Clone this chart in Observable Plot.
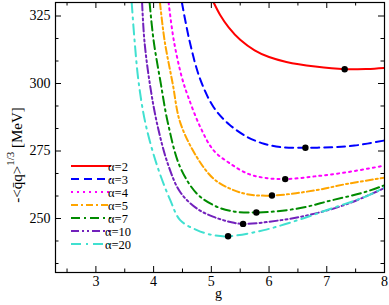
<!DOCTYPE html>
<html>
<head>
<meta charset="utf-8">
<script src="https://cdn.jsdelivr.net/npm/d3@7"></script>
<script src="https://cdn.jsdelivr.net/npm/@observablehq/plot@0.6"></script>
<style>
  html, body { margin: 0; padding: 0; background: white; }
  #chart { width: 389px; height: 305px; }
  #chart svg, #chart svg text { font-family: "Liberation Serif", "Times New Roman", Times, "DejaVu Serif", serif !important; }
</style>
</head>
<body>
<div id="chart"></div>
<script>
// ---- data ----
const alphaLabels = ["α=2", "α=3", "α=4", "α=5", "α=7", "α=10", "α=20"];
const colors = ["#ff0000", "#0000ff", "#ff00ff", "#ffa500", "#008b00", "#7221bc", "#40e0d0"];
const dashes = [null, "8,5", "2,4", "7,3,2,3", "9,4,2,4", "8,3,2,3,2,3", "10,5,2,5"];

const curveA2  = [[5.04,330],[5.15,325.5],[5.3,320.8],[5.5,316.2],[5.75,312.3],[6.0,309.8],[6.3,308],[6.8,306.3],[7.31,305.3],[7.7,305.4],[8,305.8]];
const curveA3  = [[4.49,330],[4.62,316],[4.80,302],[5.04,291.2],[5.30,285],[5.63,280.1],[5.91,277.7],[6.21,276.4],[6.63,276.2],[7.08,276.4],[7.48,277],[8,278.9]];
const curveA4  = [[4.26,330],[4.35,315.9],[4.49,302.2],[4.60,295],[4.81,283.8],[5.04,275.2],[5.33,270.3],[5.63,266.6],[5.91,265.1],[6.28,264.6],[6.79,265.6],[7.37,267.2],[8,269.6]];
const curveA5  = [[4.11,330],[4.19,315.9],[4.33,300],[4.46,285.6],[4.75,272.7],[5.04,264.7],[5.33,261],[5.62,259],[6.05,258.5],[6.79,260.4],[7.37,262.9],[8,265.1]];
const curveA7  = [[3.93,330],[4.0,315.9],[4.12,300.5],[4.25,285.1],[4.46,269],[4.75,259.2],[5.04,254.9],[5.33,252.8],[5.78,252.2],[6.5,253.7],[7.08,256.7],[7.66,259.8],[8,262.3]];
const curveA10 = [[3.80,330],[3.84,315.9],[3.93,300.5],[4.06,285.1],[4.25,270],[4.46,259.8],[4.75,253.7],[5.04,250.6],[5.33,248.7],[5.55,248],[6.21,249.4],[6.79,251.8],[7.37,255.5],[8,261.3]];
const curveA20 = [[3.62,330],[3.67,315.9],[3.74,300.5],[3.86,285.1],[4.06,269.6],[4.29,256.7],[4.46,249.4],[4.75,245.7],[5.04,243.8],[5.29,243.4],[5.91,245.7],[6.5,249.4],[7.08,253.7],[7.66,258],[8,261.5]];
const curves = [curveA2, curveA3, curveA4, curveA5, curveA7, curveA10, curveA20];

const minG = [7.31, 6.63, 6.28, 6.05, 5.78, 5.55, 5.29];
const minV = [305.3, 276.2, 264.6, 258.5, 252.2, 248.0, 243.4];

const xMajor = [3, 4, 5, 6, 7, 8];
const xMinor = [2.5, 3.5, 4.5, 5.5, 6.5, 7.5];
const yMajor = [250, 275, 300, 325];
const yMinor = [233.33, 241.67, 258.33, 266.67, 283.33, 291.67, 308.33, 316.67];

// ---- layout ----
const W = 389, H = 305, mL = 55, mR = 5, mT = 2, mB = 33;
const fw = W - mL - mR, fh = H - mT - mB;
const MAJ = 6, MIN = 3.5;
const FONT = "Liberation Serif, Times New Roman, serif";

const lineMarks = curves.map((c, i) => Plot.line(c.map(([g, v]) => ({g, v})), {
  x: "g", y: "v", stroke: colors[i], strokeWidth: 2,
  strokeDasharray: dashes[i] || undefined, curve: "catmull-rom", clip: true
}));

const minima = minG.map((g, i) => ({g, v: minV[i]}));

const svg = Plot.plot({
  width: W, height: H,
  marginLeft: mL, marginRight: mR, marginTop: mT, marginBottom: mB,
  x: {domain: [2.3, 8]},
  y: {domain: [230, 330]},
  style: {fontFamily: FONT, fontSize: "14px", background: "white", color: "black"},
  marks: [
    Plot.tickX(xMajor, {x: d => d, insetTop: fh - MAJ, stroke: "black"}),
    Plot.tickX(xMinor, {x: d => d, insetTop: fh - MIN, stroke: "black"}),
    Plot.tickX(xMajor, {x: d => d, insetBottom: fh - MAJ, stroke: "black"}),
    Plot.tickX(xMinor, {x: d => d, insetBottom: fh - MIN, stroke: "black"}),
    Plot.tickY(yMajor, {y: d => d, insetRight: fw - MAJ, stroke: "black"}),
    Plot.tickY(yMinor, {y: d => d, insetRight: fw - MIN, stroke: "black"}),
    Plot.tickY(yMajor, {y: d => d, insetLeft: fw - MAJ, stroke: "black"}),
    Plot.tickY(yMinor, {y: d => d, insetLeft: fw - MIN, stroke: "black"}),
    ...lineMarks,
    Plot.dot(minima, {x: "g", y: "v", r: 3.2, fill: "black", stroke: "none"}),
    Plot.frame({stroke: "black", strokeWidth: 1.2}),
    Plot.axisX({ticks: xMajor, tickSize: 0, tickPadding: 4, label: null, fontSize: 14, tickFormat: d => String(d)}),
    Plot.axisY({ticks: yMajor, tickSize: 0, tickPadding: 5, label: null, fontSize: 14, tickFormat: d => String(d)})
  ]
});

const root = d3.select(svg);
// x label
root.append("text").attr("x", mL + fw / 2 - 1).attr("y", 298)
  .attr("text-anchor", "middle").attr("font-size", 14).attr("font-family", FONT)
  .text("g");
// y label
const yl = root.append("text")
  .attr("transform", `translate(22,155) rotate(-90)`)
  .attr("text-anchor", "middle").attr("font-size", 15).attr("font-family", FONT);
yl.append("tspan").text("-<q\u0304q>");
yl.append("tspan").attr("dy", -8).attr("font-size", 11).text("1/3");
yl.append("tspan").attr("dy", 8).text(" [MeV]");

// legend
const lg = root.append("g");
alphaLabels.forEach((lab, i) => {
  const y = 166 + 13 * i;
  lg.append("line").attr("x1", 71).attr("x2", 111).attr("y1", y).attr("y2", y)
    .attr("stroke", colors[i]).attr("stroke-width", 2)
    .attr("stroke-dasharray", dashes[i] || null);
  lg.append("text").attr("x", 118).attr("y", y + 4.5).attr("font-size", 12.5)
    .attr("font-family", FONT).text(lab);
});

document.getElementById("chart").appendChild(svg);
</script>
</body>
</html>
